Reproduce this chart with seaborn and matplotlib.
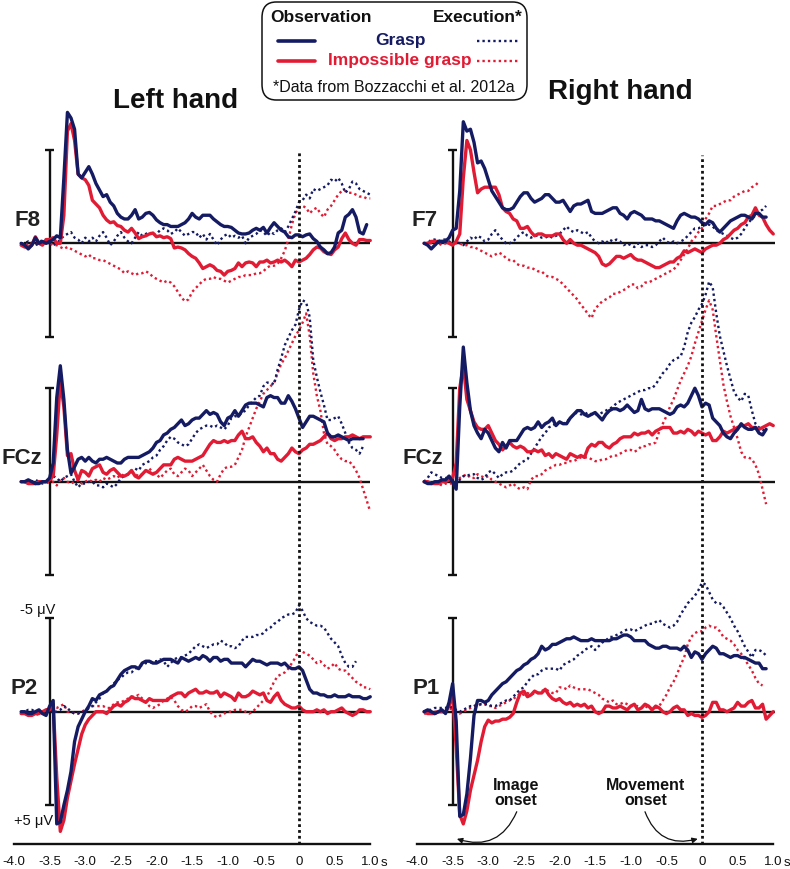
import numpy as np
import pandas as pd
import matplotlib
matplotlib.use("Agg")
import matplotlib.pyplot as plt
import seaborn as sns
from matplotlib.patches import FancyBboxPatch
from matplotlib.lines import Line2D

sns.set_style("white")
plt.rcParams["font.family"] = ["Liberation Sans", "DejaVu Sans"]
plt.rcParams["axes.unicode_minus"] = False

# ---------------- data (time in s, amplitude in microvolts; negative = up) ----------------
TIME = np.round(np.arange(-3.9, 1.0001, 0.05), 2)   # 99 samples, -3.9 ... 1.0 s

F8_GRASP_OBS = [
 0.0, 0.1, 0.3, 0.1, -0.3, 0.0, -0.1, 0.0, -0.1, -0.2,
 -0.4, -0.3, -3.5, -7.0, -6.7, -6.1, -3.7, -3.5, -3.8, -4.1,
 -3.7, -3.2, -2.85, -2.5, -2.6, -2.2, -2.0, -1.6, -1.4, -1.3,
 -1.3, -1.5, -1.8, -1.3, -1.4, -1.6, -1.65, -1.5, -1.25, -1.1,
 -1.0, -1.0, -0.9, -0.9, -0.9, -1.0, -1.1, -1.3, -1.6, -1.4,
 -1.3, -1.5, -1.5, -1.5, -1.3, -1.15, -1.0, -0.9, -0.9, -0.85,
 -0.7, -0.55, -0.5, -0.5, -0.55, -0.7, -0.8, -0.7, -0.85, -0.55,
 -0.85, -1.1, -0.9, -0.7, -0.6, -0.35, -0.3, -0.45, -0.45, -0.35,
 -0.45, -0.5, -0.25, -0.1, 0.2, 0.35, 0.55, 0.5, 0.2, -0.55,
 -0.7, -1.4, -1.55, -1.8, -1.4, -0.6, -0.5, -1.0, None]
F8_IMPOSS_OBS = [
 0.1, 0.2, 0.2, 0.1, -0.35, 0.0, 0.1, -0.2, -0.2, -0.3,
 0.0, 0.0, -1.5, -6.0, -6.4, -5.5, -3.7, -3.5, -3.4, -3.1,
 -2.3, -2.1, -1.9, -1.5, -1.25, -1.1, -1.15, -0.95, -0.9, -0.7,
 -0.6, -0.8, -0.55, -0.25, -0.35, -0.4, -0.5, -0.55, -0.35, -0.4,
 -0.3, -0.35, -0.25, 0.25, 0.2, 0.25, 0.35, 0.55, 0.7, 0.8,
 1.05, 1.35, 1.25, 1.15, 1.25, 1.45, 1.5, 1.7, 1.5, 1.45,
 1.35, 1.05, 1.25, 1.05, 1.0, 1.05, 1.25, 1.0, 1.0, 0.9,
 1.05, 1.0, 0.9, 1.0, 0.9, 1.05, 1.25, 0.9, 1.0, 0.9,
 0.8, 0.6, 0.35, 0.2, 0.25, 0.45, 0.55, 0.6, 0.35, 0.2,
 -0.25, -0.55, -0.2, 0.0, 0.1, -0.2, -0.2, -0.15, -0.15]
F8_GRASP_EXE = [
 0.0, 0.0, -0.1, 0.0, 0.1, 0.0, -0.2, 0.0, 0.0, 0.1,
 0.0, -0.2, -0.4, -0.5, -0.6, -0.3, -0.2, 0.0, -0.3, -0.1,
 -0.3, -0.1, -0.4, -0.6, -0.3, 0.1, -0.1, -0.4, -0.6, -0.3,
 -0.1, 0.0, -0.3, -0.6, -0.4, -0.5, -0.6, -0.4, -0.5, -0.7,
 -0.8, -0.7, -0.5, -0.6, -0.8, -0.6, -0.4, -0.5, -0.6, -0.6,
 -0.3, -0.5, -0.2, -0.5, -0.2, 0.1, -0.2, -0.4, -0.5, -0.3,
 -0.4, -0.3, -0.4, 0.0, -0.3, -0.4, -0.5, -0.7, -0.6, -0.4,
 -0.6, -0.5, -0.7, -0.8, -0.6, -0.9, -1.3, -1.7, -2.2, -2.3,
 -2.6, -2.4, -2.9, -2.8, -2.9, -3.0, -3.1, -3.4, -3.3, -3.5,
 -3.2, -2.7, -2.9, -3.3, -3.2, -2.9, -2.8, -2.7, -2.6]
F8_IMPOSS_EXE = [
 0.1, 0.0, 0.1, 0.0, 0.1, 0.0, 0.1, 0.0, 0.0, 0.1,
 0.1, 0.2, 0.3, 0.2, 0.3, 0.4, 0.5, 0.6, 0.7, 0.6,
 0.8, 0.8, 0.9, 0.9, 1.0, 1.1, 1.2, 1.3, 1.4, 1.6,
 1.5, 1.6, 1.7, 1.6, 1.6, 1.5, 1.6, 1.8, 1.9, 2.0,
 2.1, 2.0, 2.1, 2.3, 2.6, 2.9, 3.1, 3.0, 2.6, 2.4,
 2.2, 2.0, 1.9, 1.9, 1.8, 1.9, 1.9, 2.0, 2.1, 2.0,
 1.9, 1.8, 1.8, 1.7, 1.7, 1.7, 1.6, 1.6, 1.5, 1.3,
 1.2, 1.2, 1.1, 0.8, 0.4, -0.2, -1.0, -1.6, -1.9, -2.0,
 -1.9, -1.6, -1.8, -1.9, -1.6, -1.4, -1.8, -2.0, -2.3, -2.6,
 -2.8, -2.8, -2.7, -2.7, -2.6, -2.5, -2.5, -2.4, -2.4]

F7_GRASP_OBS = [
 0.0, 0.1, 0.3, 0.1, -0.1, -0.1, -0.1, -0.3, -0.7, -0.8,
 -2.8, -6.5, -6.0, -6.1, -5.4, -4.3, -4.4, -4.0, -3.4, -2.8,
 -2.5, -2.2, -1.9, -1.8, -1.8, -1.9, -2.2, -2.5, -2.7, -2.7,
 -2.4, -2.2, -2.3, -2.4, -2.6, -2.6, -2.4, -2.2, -2.2, -2.3,
 -2.0, -1.7, -2.0, -2.1, -2.1, -2.2, -2.3, -1.7, -1.6, -1.6,
 -1.6, -1.7, -1.8, -1.9, -1.9, -1.6, -1.5, -1.3, -1.6, -1.7,
 -1.6, -1.5, -1.3, -1.3, -1.3, -1.2, -1.2, -1.1, -1.0, -0.9,
 -0.8, -1.2, -1.5, -1.6, -1.5, -1.4, -1.4, -1.3, -1.1, -1.0,
 -1.2, -1.1, -0.8, -0.6, -0.8, -1.0, -1.2, -1.3, -1.4, -1.5,
 -1.5, -1.4, -1.3, -1.6, -1.6, -1.4, -1.4, None, None]
F7_IMPOSS_OBS = [
 0.0, 0.0, -0.1, -0.1, -0.1, -0.1, -0.1, 0.0, 0.1, -0.1,
 -0.5, -3.5, -5.5, -5.0, -3.8, -2.7, -2.9, -3.0, -3.0, -3.0,
 -3.0, -2.6, -1.9, -1.7, -1.6, -1.3, -1.2, -0.8, -0.8, -0.9,
 -0.6, -0.4, -0.5, -0.5, -0.4, -0.4, -0.4, -0.5, -0.5, -0.2,
 0.0, -0.2, 0.0, 0.1, 0.1, 0.2, 0.3, 0.4, 0.5, 0.7,
 1.1, 1.2, 1.1, 0.9, 0.7, 0.7, 0.8, 0.7, 0.6, 0.8,
 0.9, 0.9, 1.0, 1.1, 1.2, 1.3, 1.3, 1.2, 1.1, 1.0,
 1.0, 0.8, 0.7, 0.4, 0.5, 0.4, 0.3, 0.4, 0.5, 0.3,
 0.2, 0.1, 0.1, 0.0, -0.2, -0.3, -0.5, -0.7, -0.8, -1.0,
 -1.1, -1.4, -1.5, -1.9, -1.5, -1.4, -1.0, -0.7, -0.5]
F7_GRASP_EXE = [
 0.0, 0.0, -0.2, -0.2, -0.1, -0.2, -0.2, -0.1, 0.0, -0.1,
 0.0, 0.1, -0.1, -0.3, -0.2, -0.4, -0.3, -0.1, -0.2, -0.5,
 -0.7, -0.4, -0.2, 0.0, 0.0, -0.1, -0.3, -0.5, -0.6, -0.4,
 -0.3, -0.4, -0.4, -0.3, -0.3, -0.4, -0.3, -0.4, -0.5, -0.7,
 -0.9, -0.7, -0.6, -0.7, -0.6, -0.5, -0.6, -0.3, -0.1, 0.0,
 -0.1, 0.0, -0.2, -0.1, -0.2, -0.1, 0.1, 0.0, 0.1, 0.2,
 0.0, 0.2, 0.1, 0.1, 0.2, 0.1, -0.1, -0.3, -0.1, 0.0,
 -0.1, 0.0, -0.1, -0.2, -0.4, -0.6, -0.8, -0.8, -0.9, -1.0,
 -1.0, -0.9, -0.7, -0.6, -0.5, -0.4, -0.3, -0.2, -0.3, -0.5,
 -0.8, -1.1, -1.3, -1.5, -1.7, -1.8, -2.0, None, None]
F7_IMPOSS_EXE = [
 0.0, 0.0, 0.0, 0.1, 0.0, 0.1, 0.0, 0.0, 0.0, 0.0,
 0.0, 0.1, 0.1, 0.2, 0.2, 0.3, 0.4, 0.5, 0.6, 0.7,
 0.6, 0.5, 0.6, 0.8, 0.9, 0.9, 1.1, 1.2, 1.2, 1.3,
 1.3, 1.4, 1.5, 1.5, 1.7, 1.8, 1.8, 1.9, 2.0, 2.2,
 2.4, 2.6, 2.8, 3.0, 3.3, 3.5, 3.8, 4.0, 3.5, 3.3,
 3.1, 3.0, 2.9, 2.7, 2.7, 2.6, 2.5, 2.4, 2.2, 2.2,
 2.4, 2.3, 2.1, 2.1, 2.0, 1.9, 1.8, 1.7, 1.6, 1.5,
 1.4, 1.2, 0.9, 0.6, 0.3, -0.1, -0.3, -0.6, -0.8, -1.3,
 -1.6, -2.0, -2.0, -2.1, -2.2, -2.3, -2.3, -2.5, -2.6, -2.7,
 -2.8, -2.8, -3.0, -3.1, -3.3, None, None, None, None]

FCZL_GRASP_OBS = [
 0.0, 0.0, -0.1, 0.0, 0.1, 0.1, 0.0, 0.0, -0.2, -1.0,
 -4.5, -6.2, -4.4, -1.7, -0.45, -0.8, -1.2, -1.3, -1.1, -1.3,
 -1.1, -1.0, -1.2, -1.2, -1.3, -1.2, -1.1, -1.0, -1.0, -1.2,
 -1.3, -1.3, -1.3, -1.3, -1.4, -1.5, -1.6, -1.8, -2.1, -2.2,
 -2.5, -2.6, -2.8, -2.9, -3.1, -3.3, -3.0, -3.1, -3.3, -3.4,
 -3.4, -3.6, -3.8, -3.6, -3.7, -3.6, -3.2, -3.0, -3.4, -3.5,
 -3.8, -3.5, -3.8, -4.1, -4.2, -4.2, -4.2, -4.1, -4.0, -4.5,
 -4.6, -4.5, -4.5, -4.2, -4.2, -4.6, -4.3, -3.9, -3.4, -2.9,
 -3.2, -3.5, -3.5, -3.4, -3.3, -3.2, -2.6, -2.4, -2.4, -2.5,
 -2.4, -2.3, -2.2, -2.3, -2.3, -2.3, -2.3, None, None]
FCZL_IMPOSS_OBS = [
 0.0, 0.0, 0.1, 0.1, 0.1, 0.0, 0.0, 0.0, -0.1, -0.3,
 -2.5, -5.4, -4.0, -1.4, -1.5, -0.6, -0.1, -0.6, -0.5, -0.3,
 -0.7, -0.8, -0.9, -0.5, -0.4, -0.6, -0.7, -0.5, -0.3, -0.3,
 -0.4, -0.6, -0.3, -0.2, -0.4, -0.6, -0.5, -0.4, -0.5, -0.7,
 -0.9, -0.9, -0.9, -1.2, -1.3, -1.2, -1.1, -1.1, -1.1, -1.2,
 -1.3, -1.4, -1.7, -2.0, -2.2, -2.1, -2.1, -2.2, -2.1, -2.2,
 -2.2, -2.5, -2.7, -2.3, -2.3, -2.4, -2.1, -1.9, -1.6, -1.8,
 -1.5, -1.5, -1.2, -1.1, -1.3, -1.5, -1.8, -1.6, -1.5, -1.7,
 -1.8, -2.0, -2.0, -2.1, -2.2, -2.4, -2.6, -2.3, -2.2, -2.3,
 -2.3, -2.4, -2.4, -2.5, -2.4, -2.3, -2.4, -2.4, -2.4]
FCZL_GRASP_EXE = [
 0.0, 0.0, 0.1, 0.0, -0.1, 0.0, 0.1, 0.0, 0.0, -0.3,
 -0.2, 0.0, -0.2, -0.3, -0.4, 0.0, 0.3, 0.1, 0.1, 0.0,
 0.0, 0.2, 0.2, 0.3, 0.1, 0.2, 0.3, 0.1, -0.2, -0.3,
 -0.4, -0.6, -0.7, -0.6, -0.9, -1.0, -1.1, -1.3, -1.4, -1.7,
 -1.9, -2.2, -2.4, -2.3, -2.1, -2.0, -1.9, -2.0, -2.3, -2.6,
 -2.8, -2.9, -3.0, -3.0, -2.9, -3.0, -2.9, -2.8, -3.0, -3.4,
 -3.5, -3.5, -3.7, -3.8, -4.1, -4.3, -4.5, -4.6, -5.1, -5.3,
 -5.3, -5.2, -6.0, -6.6, -7.3, -7.7, -8.1, -8.4, -9.2, -9.7,
 -9.6, -8.8, -6.5, -5.6, -4.8, -4.1, -3.3, -3.3, -3.4, -3.5,
 -3.1, -2.6, -2.1, -1.8, -1.7, -1.5, -1.9, None, None]
FCZL_IMPOSS_EXE = [
 0.0, 0.0, 0.0, 0.1, 0.0, 0.0, 0.0, 0.1, 0.0, 0.0,
 0.2, -0.1, -0.2, 0.0, 0.1, 0.0, -0.1, 0.1, 0.0, -0.1,
 0.0, -0.1, 0.0, -0.2, -0.1, -0.2, -0.3, -0.2, -0.4, -0.3,
 -0.4, -0.5, -0.4, -0.3, -0.4, -0.6, -0.7, -0.5, -0.4, -0.2,
 -0.4, -0.6, -0.7, -0.4, -0.3, -0.5, -0.7, -0.6, -0.3, -0.5,
 -0.7, -0.9, -0.6, -0.3, -0.1, 0.0, -0.4, -0.7, -0.8, -0.8,
 -0.9, -1.3, -1.7, -2.4, -2.9, -3.4, -3.9, -4.3, -4.7, -4.9,
 -5.1, -5.3, -5.8, -6.3, -6.6, -7.0, -7.4, -7.8, -8.1, -8.5,
 -9.0, -7.8, -5.8, -4.6, -3.8, -2.6, -2.0, -1.9, -1.7, -1.4,
 -1.2, -1.1, -1.1, -0.9, -0.6, -0.2, 0.4, 1.0, 1.6]

FCZR_GRASP_OBS = [
 0.0, 0.1, 0.1, 0.0, 0.0, -0.1, -0.1, -0.3, 0.0, 0.4,
 -4.0, -7.2, -5.3, -3.8, -3.0, -2.6, -2.3, -2.8, -2.6, -2.2,
 -1.8, -1.6, -2.1, -1.8, -2.2, -2.2, -2.2, -2.5, -2.8, -2.9,
 -2.8, -2.9, -3.2, -2.9, -3.1, -3.2, -3.4, -3.0, -3.2, -3.1,
 -3.1, -3.4, -3.6, -3.8, -3.8, -3.6, -3.5, -3.6, -3.7, -3.5,
 -3.3, -3.6, -3.8, -3.9, -3.9, -3.8, -3.9, -4.1, -3.9, -3.7,
 -3.8, -4.4, -3.9, -3.8, -3.9, -3.9, -3.9, -3.8, -3.7, -3.6,
 -3.7, -4.0, -4.1, -4.0, -4.2, -4.6, -5.0, -4.6, -4.0, -4.2,
 -4.1, -3.4, -3.2, -3.0, -2.6, -2.4, -2.3, -2.6, -2.8, -3.1,
 -2.9, -2.8, -2.8, -2.9, -2.6, -2.5, -2.8, None, None]
FCZR_IMPOSS_OBS = [
 0.0, 0.0, 0.1, 0.1, 0.1, 0.0, 0.0, -0.1, -0.2, -1.0,
 -5.0, -6.2, -4.4, -3.8, -3.2, -2.9, -2.8, -2.8, -3.0, -2.6,
 -2.2, -2.0, -1.7, -1.9, -2.1, -1.9, -1.8, -1.9, -1.8, -1.6,
 -1.6, -1.7, -1.6, -1.7, -1.4, -1.5, -1.3, -1.5, -1.4, -1.3,
 -1.2, -1.5, -1.4, -1.3, -1.4, -1.3, -1.8, -2.0, -1.9, -2.1,
 -2.1, -1.9, -1.8, -2.0, -2.1, -2.3, -2.4, -2.4, -2.4, -2.6,
 -2.5, -2.6, -2.6, -2.7, -2.5, -2.7, -2.8, -2.9, -2.9, -2.9,
 -2.6, -2.6, -2.7, -2.6, -2.8, -2.7, -2.5, -2.7, -2.6, -2.5,
 -2.6, -2.2, -2.2, -2.4, -2.7, -2.6, -2.7, -2.8, -2.9, -3.0,
 -3.0, -3.1, -2.9, -2.9, -2.8, -2.9, -3.0, -3.1, -3.0]
FCZR_GRASP_EXE = [
 0.0, -0.2, -0.5, -0.4, -0.3, -0.2, -0.2, -0.1, 0.0, 0.1,
 -0.1, -0.3, -0.3, -0.4, -0.4, -0.2, -0.1, -0.2, -0.5, -0.6,
 -0.4, -0.2, -0.4, -0.5, -0.5, -0.6, -0.8, -1.0, -1.1, -1.2,
 -1.5, -1.8, -2.1, -2.4, -2.6, -2.9, -3.0, -3.1, -3.2, -3.1,
 -3.2, -3.4, -3.6, -3.7, -3.6, -3.6, -3.7, -3.6, -3.6, -3.6,
 -3.7, -3.8, -3.9, -4.0, -4.2, -4.3, -4.4, -4.5, -4.6, -4.7,
 -4.8, -4.9, -4.9, -5.0, -5.0, -5.2, -5.5, -5.8, -6.0, -6.3,
 -6.5, -6.6, -6.7, -7.2, -8.0, -8.5, -8.8, -9.2, -9.5, -10.0,
 -10.7, -10.4, -9.0, -7.8, -7.0, -6.2, -5.5, -4.8, -4.5, -4.3,
 -4.7, -4.6, -3.8, -3.1, -2.9, -2.8, -2.6, None, None]
FCZR_IMPOSS_EXE = [
 0.0, 0.0, 0.1, 0.1, 0.1, 0.2, 0.1, 0.1, 0.1, 0.0,
 -0.2, -0.3, -0.4, -0.2, -0.2, -0.4, -0.3, -0.2, -0.3, -0.1,
 0.0, 0.1, 0.2, 0.3, 0.2, 0.1, 0.3, 0.4, 0.3, 0.4,
 -0.1, -0.3, -0.3, -0.4, -0.6, -0.7, -0.8, -0.9, -0.9, -1.0,
 -1.0, -1.1, -1.1, -1.2, -1.3, -1.3, -1.3, -1.2, -1.1, -1.1,
 -1.2, -1.2, -1.3, -1.4, -1.4, -1.5, -1.6, -1.7, -1.7, -1.6,
 -1.7, -1.9, -1.9, -2.0, -2.0, -2.1, -2.7, -3.1, -3.5, -4.0,
 -4.4, -4.9, -5.4, -5.8, -6.2, -6.7, -7.4, -8.0, -8.6, -9.2,
 -9.7, -9.2, -7.8, -6.5, -5.2, -4.3, -3.5, -2.9, -2.3, -1.6,
 -1.3, -1.3, -1.2, -0.9, -0.4, 0.4, 1.2, None, None]

P2_GRASP_OBS = [
 0.0, 0.0, 0.1, 0.1, 0.0, -0.1, 0.1, 0.2, -0.3, -0.6,
 6.0, 5.9, 5.0, 4.2, 3.2, 1.6, 0.8, 0.4, 0.0, -0.3,
 -0.7, -0.6, -0.9, -1.0, -1.1, -1.3, -1.4, -1.7, -2.0, -2.2,
 -2.3, -2.4, -2.4, -2.3, -2.6, -2.7, -2.7, -2.6, -2.6, -2.7,
 -2.8, -2.8, -2.8, -2.7, -2.6, -2.9, -2.8, -2.7, -2.8, -2.9,
 -2.8, -3.0, -2.9, -2.7, -2.9, -2.9, -2.7, -2.8, -2.8, -2.6,
 -2.6, -2.6, -2.6, -2.4, -2.6, -2.8, -2.7, -2.7, -2.6, -2.5,
 -2.6, -2.6, -2.6, -2.5, -2.6, -2.4, -2.3, -2.3, -2.4, -2.2,
 -1.7, -1.2, -1.0, -1.0, -0.9, -0.9, -0.8, -0.8, -0.9, -0.8,
 -0.8, -0.8, -0.9, -0.8, -0.8, -0.8, -0.7, -0.7, -0.8]
P2_IMPOSS_OBS = [
 0.1, 0.1, 0.2, 0.2, 0.1, 0.1, 0.0, -0.1, -0.1, -0.4,
 3.5, 6.4, 5.8, 4.6, 3.7, 2.8, 2.0, 1.2, 0.7, 0.4,
 0.2, 0.0, 0.0, 0.0, 0.1, -0.1, -0.3, -0.4, -0.3, -0.5,
 -0.6, -0.8, -0.7, -0.7, -0.6, -0.5, -0.7, -0.6, -0.6, -0.6,
 -0.6, -0.6, -0.8, -0.9, -1.0, -1.0, -0.8, -1.0, -1.1, -1.2,
 -1.0, -1.0, -1.1, -1.0, -1.0, -1.1, -0.8, -1.0, -0.9, -0.8,
 -0.6, -1.0, -0.8, -0.8, -0.9, -1.1, -1.0, -0.9, -1.0, -0.6,
 -0.5, -0.8, -1.0, -0.6, -0.4, -0.3, -0.2, -0.2, -0.3, -0.1,
 0.0, 0.0, 0.0, -0.1, 0.0, -0.1, 0.1, 0.0, 0.0, -0.1,
 -0.2, 0.0, 0.1, 0.2, 0.1, -0.1, -0.1, 0.0, 0.0]
P2_GRASP_EXE = [
 0.0, 0.0, -0.1, -0.1, 0.0, 0.1, 0.0, -0.1, -0.2, 0.0,
 0.0, -0.1, -0.3, -0.2, 0.0, 0.1, 0.1, 0.0, 0.0, -0.2,
 -0.3, -0.5, -0.7, -1.0, -1.1, -1.3, -1.5, -1.7, -1.8, -2.0,
 -2.1, -2.1, -2.3, -2.4, -2.5, -2.6, -2.6, -2.7, -2.7, -2.8,
 -2.7, -2.4, -2.6, -2.8, -2.9, -2.9, -3.0, -3.1, -3.3, -3.5,
 -3.6, -3.5, -3.4, -3.5, -3.6, -3.6, -3.8, -3.7, -3.5, -3.5,
 -3.4, -3.5, -3.8, -4.0, -4.0, -4.0, -4.1, -4.1, -4.2, -4.4,
 -4.5, -4.7, -4.8, -5.0, -5.1, -5.2, -5.2, -5.3, -5.7, -5.4,
 -5.0, -4.8, -4.7, -4.6, -4.6, -4.5, -4.2, -3.9, -3.7, -3.5,
 -3.0, -2.6, -2.4, -2.4, -2.7, None, None, None, None]
P2_IMPOSS_EXE = [
 0.0, 0.1, 0.1, 0.1, 0.2, 0.1, 0.1, 0.0, -0.1, -0.2,
 -0.2, -0.3, -0.4, 0.0, 0.0, 0.1, 0.1, 0.0, -0.1, -0.2,
 -0.3, -0.3, -0.3, -0.3, -0.2, -0.2, -0.4, -0.5, -0.5, -0.6,
 -0.7, -0.8, -0.8, -0.9, -0.7, -0.5, -0.3, -0.2, -0.3, -0.4,
 -0.6, -0.7, -0.8, -0.6, -0.3, -0.1, 0.0, -0.1, -0.3, -0.3,
 -0.2, -0.3, -0.4, 0.0, 0.2, 0.3, 0.2, 0.1, 0.0, 0.0,
 -0.1, -0.1, -0.1, 0.0, 0.1, 0.0, -0.2, -0.4, -0.6, -0.8,
 -1.2, -1.6, -1.9, -2.0, -2.1, -2.3, -2.6, -2.9, -3.3, -3.2,
 -3.1, -3.0, -2.8, -2.6, -2.7, -2.5, -2.3, -2.4, -2.6, -2.3,
 -2.2, -2.2, -2.0, -1.8, -1.6, -1.5, -1.3, -1.3, -1.2]

P1_GRASP_OBS = [
 0.0, -0.1, 0.0, 0.1, 0.0, -0.1, 0.1, -0.5, -1.5, 0.5,
 5.6, 5.5, 4.4, 2.5, 0.2, -0.6, -0.6, -0.5, -0.6, -0.9,
 -1.1, -1.3, -1.5, -1.6, -1.8, -2.0, -2.2, -2.3, -2.5, -2.6,
 -2.8, -2.9, -3.1, -3.5, -3.3, -3.4, -3.6, -3.6, -3.7, -3.8,
 -3.9, -3.9, -4.0, -3.9, -3.8, -3.8, -3.8, -3.9, -3.8, -3.8,
 -3.8, -3.8, -3.8, -3.9, -3.9, -4.0, -4.1, -4.1, -4.0, -3.8,
 -3.8, -3.8, -3.8, -3.6, -3.5, -3.4, -3.4, -3.5, -3.5, -3.4,
 -3.4, -3.4, -3.3, -3.5, -3.3, -2.9, -3.2, -3.1, -2.8, -3.1,
 -3.3, -3.5, -3.4, -3.1, -3.1, -3.0, -2.9, -3.0, -3.0, -2.9,
 -2.9, -2.8, -2.7, -2.6, -2.6, -2.3, -2.3, None, None]
P1_IMPOSS_OBS = [
 0.0, 0.1, 0.1, 0.1, 0.0, 0.0, 0.0, -0.3, -1.0, 1.9,
 5.5, 6.0, 5.3, 4.2, 3.4, 2.6, 1.6, 0.8, 0.45, 0.6,
 0.5, 0.5, 0.4, 0.4, 0.3, 0.1, -0.5, -1.0, -1.1, -0.8,
 -0.9, -1.1, -1.0, -1.0, -1.2, -0.9, -0.7, -0.6, -0.7, -0.5,
 -0.4, -0.5, -0.3, -0.4, -0.3, -0.4, -0.2, -0.3, 0.0, 0.1,
 0.0, -0.3, -0.3, -0.2, -0.2, -0.3, -0.2, -0.1, -0.3, -0.4,
 -0.1, -0.2, -0.4, -0.3, -0.1, -0.3, -0.2, 0.0, 0.1, 0.0,
 -0.2, -0.3, -0.1, -0.1, 0.2, 0.1, 0.2, 0.2, 0.3, 0.2,
 0.0, -0.5, -0.5, -0.1, -0.1, 0.0, -0.1, -0.2, -0.5, -0.3,
 -0.3, -0.5, -0.6, -0.2, -0.2, -0.4, 0.4, 0.2, 0.0]
P1_GRASP_EXE = [
 0.0, -0.1, -0.1, -0.2, -0.2, -0.2, -0.2, -0.3, -0.2, -0.1,
 0.0, -0.1, -0.2, -0.3, -0.3, -0.4, -0.4, -0.4, -0.4, -0.3,
 -0.3, -0.4, -0.5, -0.6, -0.6, -0.8, -1.0, -1.2, -1.3, -1.6,
 -1.8, -2.0, -2.0, -2.2, -2.3, -2.3, -2.3, -2.3, -2.2, -2.5,
 -2.6, -2.7, -2.8, -3.0, -3.1, -3.3, -3.4, -3.5, -3.3, -3.5,
 -3.7, -3.8, -4.0, -4.0, -4.1, -4.2, -4.3, -4.4, -4.4, -4.3,
 -4.4, -4.5, -4.6, -4.7, -4.7, -4.8, -4.9, -4.7, -4.6, -4.5,
 -4.6, -4.8, -5.2, -5.5, -5.8, -6.0, -6.2, -6.5, -6.9, -6.8,
 -6.4, -6.0, -5.8, -5.8, -5.6, -5.3, -5.0, -4.6, -4.3, -3.9,
 -3.5, -3.2, -2.9, -3.3, -3.3, -3.2, -3.0, None, None]
P1_IMPOSS_EXE = [
 0.1, 0.1, 0.0, 0.0, 0.0, -0.1, -0.1, -0.2, -0.1, 0.0,
 0.1, 0.0, -0.1, -0.2, -0.3, -0.3, -0.4, -0.4, -0.3, -0.3,
 -0.2, -0.3, -0.4, -0.5, -0.6, -0.7, -0.8, -1.0, -0.9, -1.0,
 -0.9, -1.0, -1.0, -1.1, -1.2, -1.1, -1.0, -1.0, -1.3, -1.3,
 -1.2, -1.4, -1.3, -1.2, -1.2, -1.2, -1.2, -1.1, -1.0, -0.9,
 -0.7, -0.6, -0.5, -0.6, -0.4, -0.4, -0.5, -0.4, -0.3, -0.3,
 -0.3, -0.2, -0.3, -0.2, -0.1, -0.2, -0.3, -0.6, -0.9, -1.3,
 -1.6, -2.0, -2.5, -2.9, -3.6, -4.0, -4.2, -4.3, -4.3, -4.5,
 -4.6, -4.5, -4.5, -4.3, -4.0, -3.9, -3.8, -3.6, -3.3, -3.1,
 -2.8, -2.5, -2.2, -1.8, -1.5, -1.4, None, None, None]

ELECTRODES = [["F8", "FCz", "P2"], ["F7", "FCz", "P1"]]
COLUMN_TITLES = ["Left hand", "Right hand"]
XTICKS = [-4.0, -3.5, -3.0, -2.5, -2.0, -1.5, -1.0, -0.5, 0.0, 0.5, 1.0]
XTICK_LABELS = ["-4.0", "-3.5", "-3.0", "-2.5", "-2.0", "-1.5", "-1.0", "-0.5", "0", "0.5", "1.0"]
SERIES = {
    (0, 0): (F8_GRASP_OBS, F8_IMPOSS_OBS, F8_GRASP_EXE, F8_IMPOSS_EXE),
    (0, 1): (FCZL_GRASP_OBS, FCZL_IMPOSS_OBS, FCZL_GRASP_EXE, FCZL_IMPOSS_EXE),
    (0, 2): (P2_GRASP_OBS, P2_IMPOSS_OBS, P2_GRASP_EXE, P2_IMPOSS_EXE),
    (1, 0): (F7_GRASP_OBS, F7_IMPOSS_OBS, F7_GRASP_EXE, F7_IMPOSS_EXE),
    (1, 1): (FCZR_GRASP_OBS, FCZR_IMPOSS_OBS, FCZR_GRASP_EXE, FCZR_IMPOSS_EXE),
    (1, 2): (P1_GRASP_OBS, P1_IMPOSS_OBS, P1_GRASP_EXE, P1_IMPOSS_EXE),
}

# ---------------- styling / layout ----------------
NAVY = "#141b62"
RED = "#e11b34"
INK = "#111111"
DOT = (0, (1.0, 1.3))
W, H = 790, 869
COL_ZERO_X = [299.0, 702.0]          # pixel x of t = 0
ROW_ZERO_Y = [243.3, 481.7, 711.7]   # pixel y of 0 uV
PX_S, PX_UV = 71.25, 18.7
XLIM = (-4.15, 1.2)
YLIM = (7.1, -11.0)
LABEL_RIGHT = [[40, 42, 38], [438, 443, 440]]
LABEL_Y = [221, 458, 688]

fig = plt.figure(figsize=(W / 100, H / 100), dpi=100)


def make_axes(col, row):
    x0 = COL_ZERO_X[col] + XLIM[0] * PX_S
    x1 = COL_ZERO_X[col] + XLIM[1] * PX_S
    ytop = ROW_ZERO_Y[row] + YLIM[1] * PX_UV
    ybot = ROW_ZERO_Y[row] + YLIM[0] * PX_UV
    ax = fig.add_axes([x0 / W, 1 - ybot / H, (x1 - x0) / W, (ybot - ytop) / H])
    ax.patch.set_alpha(0)
    return ax


def draw(ax, values, color, solid, z):
    df = pd.DataFrame({"t": TIME, "uV": pd.Series(values, dtype="float64")}).dropna()
    sns.lineplot(data=df, x="t", y="uV", ax=ax, color=color, estimator=None, sort=False,
                 linewidth=2.4 if solid else 1.7,
                 linestyle="-" if solid else DOT, zorder=z, legend=False)


for col in range(2):
    for row in range(3):
        ax = make_axes(col, row)
        g_obs, i_obs, g_exe, i_exe = SERIES[(col, row)]
        draw(ax, i_exe, RED, False, 2)
        draw(ax, g_exe, NAVY, False, 3)
        draw(ax, i_obs, RED, True, 4)
        draw(ax, g_obs, NAVY, True, 5)
        # baseline and +-5 uV scale bar
        ax.hlines(0, -3.86, 1.0 if col == 0 else 1.02, color=INK, lw=1.7, zorder=1)
        ax.vlines(-3.5, -5, 5, color=INK, lw=1.7, zorder=1)
        ax.hlines([-5, 5], -3.565, -3.435, color=INK, lw=1.7, zorder=1)
        ax.set_xlim(*XLIM)
        ax.set_ylim(*YLIM)
        ax.set_xlabel("")
        ax.set_ylabel("")
        if row < 2:
            ax.axis("off")
        else:
            for s in ("left", "right", "top"):
                ax.spines[s].set_visible(False)
            ax.spines["bottom"].set_bounds(-4.0, 1.0)
            ax.spines["bottom"].set_linewidth(1.7)
            ax.spines["bottom"].set_color(INK)
            ax.set_yticks([])
            ax.set_xticks(XTICKS)
            ax.set_xticklabels(XTICK_LABELS, fontsize=9.5, color=INK)
            ax.tick_params(axis="x", direction="out", length=6, width=1.7, pad=2, color=INK)
            ax.text(1.14, 8.1, "s", fontsize=9.5, color=INK, ha="left", va="center")
            top_px = 151.7 if col == 0 else 155.0
            ybot = ROW_ZERO_Y[row] + YLIM[0] * PX_UV
            ytop = ROW_ZERO_Y[row] + YLIM[1] * PX_UV
            ax.axvline(0, ymin=0, ymax=(ybot - top_px) / (ybot - ytop), color=INK, lw=2.0,
                       linestyle=(0, (1.0, 1.1)), clip_on=False, zorder=8)
            if col == 0:
                ax.text(-3.42, -5.45, "-5 \u03bcV", ha="right", va="center", fontsize=10.5, color=INK)
                ax.text(-3.45, 5.85, "+5 \u03bcV", ha="right", va="center", fontsize=10.5, color=INK)
            else:
                ax.text(-2.61, 4.33, "Image\nonset", ha="center", va="center", fontsize=11.5,
                        fontweight="bold", linespacing=1.0, color=INK)
                ax.text(-0.79, 4.33, "Movement\nonset", ha="center", va="center", fontsize=11.5,
                        fontweight="bold", linespacing=1.0, color=INK)
                ax.annotate("", xy=(-3.44, 6.8), xytext=(-2.6, 5.35),
                            arrowprops=dict(arrowstyle="-|>", connectionstyle="arc3,rad=-0.45",
                                            lw=0.9, color=INK, shrinkA=0, shrinkB=0,
                                            mutation_scale=8))
                ax.annotate("", xy=(-0.06, 6.8), xytext=(-0.8, 5.35),
                            arrowprops=dict(arrowstyle="-|>", connectionstyle="arc3,rad=0.45",
                                            lw=0.9, color=INK, shrinkA=0, shrinkB=0,
                                            mutation_scale=8))
        # electrode label
        fig.text(LABEL_RIGHT[col][row] / W, 1 - LABEL_Y[row] / H, ELECTRODES[col][row],
                 ha="right", va="center", fontsize=16, fontweight="bold", color="#222222")

# column titles
fig.text(176 / W, 1 - 108 / H, COLUMN_TITLES[0], ha="center", va="baseline",
         fontsize=20, fontweight="bold", color=INK)
fig.text(620 / W, 1 - 99 / H, COLUMN_TITLES[1], ha="center", va="baseline",
         fontsize=20, fontweight="bold", color=INK)

# legend box
box = FancyBboxPatch((262 / W, 1 - 100 / H), 265 / W, 98 / H,
                     boxstyle="round,pad=0,rounding_size=0.018",
                     transform=fig.transFigure, fc="white", ec=INK, lw=1.1, zorder=10)
fig.add_artist(box)
fig.text(270 / W, 1 - 17 / H, "Observation", ha="left", va="center", fontsize=12.5,
         fontweight="bold", color=INK, zorder=11)
fig.text(523 / W, 1 - 17 / H, "Execution*", ha="right", va="center", fontsize=12.5,
         fontweight="bold", color=INK, zorder=11)
fig.text(400 / W, 1 - 41 / H, "Grasp", ha="center", va="center", fontsize=12.5,
         fontweight="bold", color=NAVY, zorder=11)
fig.text(400 / W, 1 - 61 / H, "Impossible grasp", ha="center", va="center", fontsize=12.5,
         fontweight="bold", color=RED, zorder=11)
fig.text(394 / W, 1 - 87 / H, "*Data from Bozzacchi et al. 2012a", ha="center", va="center",
         fontsize=11.5, color=INK, zorder=11)
for yy, cc in ((41, NAVY), (61, RED)):
    fig.add_artist(Line2D([278 / W, 315 / W], [1 - yy / H, 1 - yy / H], transform=fig.transFigure,
                          color=cc, lw=2.6, zorder=11))
    fig.add_artist(Line2D([477 / W, 518 / W], [1 - yy / H, 1 - yy / H], transform=fig.transFigure,
                          color=cc, lw=1.7, linestyle=DOT, zorder=11))

fig.savefig("out.png", dpi=100)
